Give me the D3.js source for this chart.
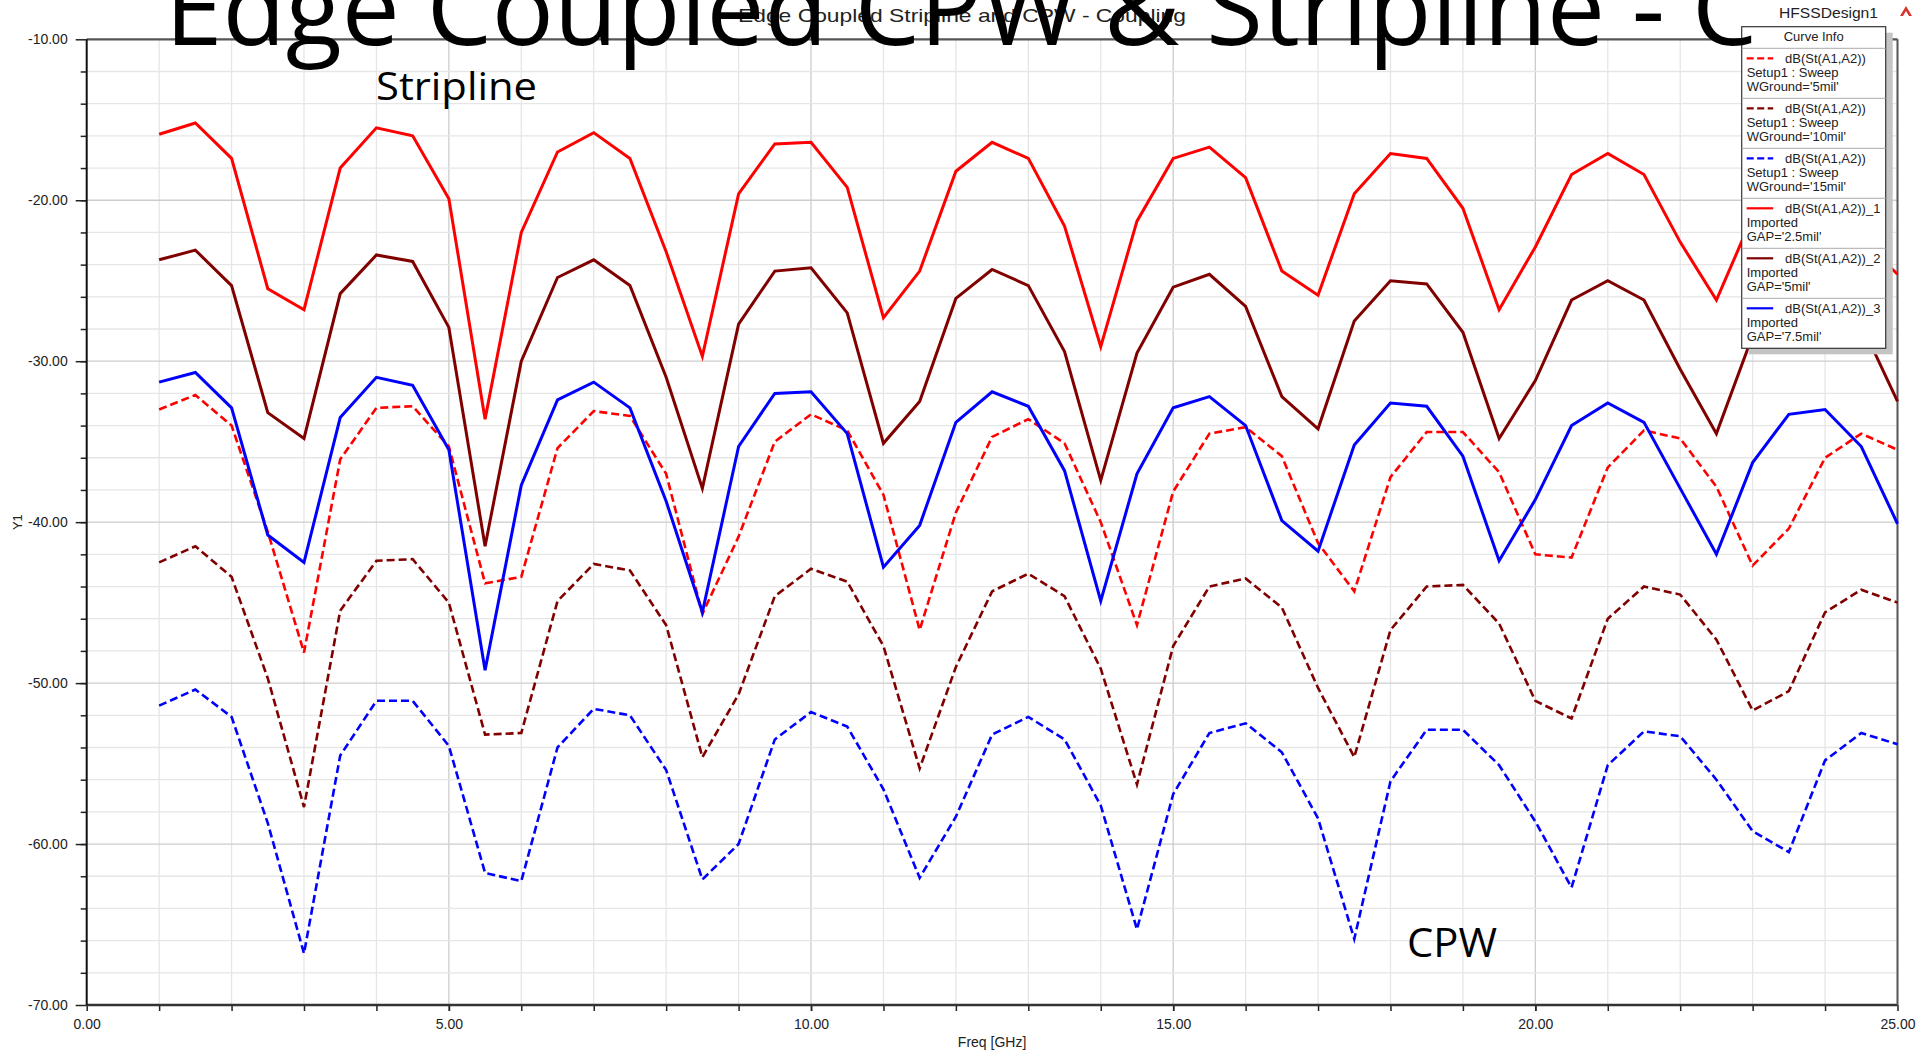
<!DOCTYPE html>
<html>
<head>
<meta charset="utf-8">
<script src="https://cdn.jsdelivr.net/npm/d3@7/dist/d3.min.js"></script>
<style>
  body { margin: 0; background: #fff; }
  svg { display: block; }
  .lbl { font-family: 'Liberation Sans', Arial, sans-serif; fill: #222; }
  .slide { font-family: 'Open Sans', 'Noto Sans', sans-serif; fill: #000; }
</style>
</head>
<body>
<div id="chart"></div>
<script>
// ---- data (dB vs GHz) ----
var freq = [1, 1.5, 2, 2.5, 3, 3.5, 4, 4.5, 5, 5.5, 6, 6.5, 7, 7.5, 8, 8.5, 9, 9.5, 10, 10.5,
            11, 11.5, 12, 12.5, 13, 13.5, 14, 14.5, 15, 15.5, 16, 16.5, 17, 17.5, 18, 18.5, 19, 19.5, 20, 20.5,
            21, 21.5, 22, 22.5, 23, 23.5, 24, 24.5, 25];

// CPW sweep, WGround = 5 / 10 / 15 mil (dashed)
var wg5 = [-33.0, -32.1, -34.0, -40.6, -48.1, -36.1, -32.9, -32.8, -35.3, -43.8, -43.4, -35.4, -33.1, -33.4, -37.0, -45.7, -40.9, -35.0, -33.3, -34.3,
           -38.3, -46.7, -39.4, -34.7, -33.6, -35.1, -40.0, -46.4, -38.1, -34.5, -34.1, -35.9, -41.3, -44.3, -37.2, -34.4, -34.4, -36.9, -42.0, -42.2,
           -36.6, -34.3, -34.8, -37.8, -42.7, -40.4, -36.0, -34.5, -35.5];
var wg10 = [-42.5, -41.5, -43.4, -49.7, -57.7, -45.5, -42.4, -42.3, -45.0, -53.2, -53.1, -44.9, -42.6, -43.0, -46.4, -54.6, -50.7, -44.6, -42.9, -43.7,
            -47.7, -55.3, -49.0, -44.3, -43.2, -44.6, -49.1, -56.3, -47.7, -44.0, -43.5, -45.3, -50.3, -54.6, -46.7, -44.0, -43.9, -46.3, -51.1, -52.2,
            -46.0, -44.0, -44.5, -47.3, -51.7, -50.5, -45.6, -44.2, -45.0];
var wg15 = [-51.4, -50.4, -52.1, -58.7, -66.8, -54.5, -51.1, -51.1, -53.9, -61.8, -62.3, -54.0, -51.6, -52.0, -55.4, -62.2, -60.0, -53.5, -51.8, -52.7,
            -56.6, -62.1, -58.3, -53.2, -52.1, -53.5, -57.6, -65.3, -56.9, -53.1, -52.5, -54.3, -58.4, -65.9, -56.1, -52.9, -52.9, -55.1, -58.6, -62.7,
            -55.1, -53.0, -53.3, -56.0, -59.2, -60.5, -54.8, -53.1, -53.8];

// Stripline imported, GAP = 2.5 / 5 / 7.5 mil (solid)
var gap25 = [-15.9, -15.2, -17.4, -25.5, -26.8, -18.0, -15.5, -16.0, -19.9, -33.6, -22.0, -17.0, -15.8, -17.4, -23.2, -29.7, -19.6, -16.5, -16.4, -19.2,
             -27.3, -24.4, -18.2, -16.4, -17.4, -21.6, -29.1, -21.3, -17.4, -16.7, -18.6, -24.4, -25.9, -19.6, -17.1, -17.4, -20.5, -26.8, -22.9, -18.4,
             -17.1, -18.4, -22.6, -26.2, -21.0, -17.8, -17.6, -22.4, -24.6];
var gap5 = [-23.7, -23.1, -25.3, -33.2, -34.8, -25.8, -23.4, -23.8, -27.9, -41.5, -30.0, -24.8, -23.7, -25.3, -31.0, -37.9, -27.7, -24.4, -24.2, -27.0,
            -35.1, -32.5, -26.1, -24.3, -25.3, -29.4, -37.4, -29.5, -25.4, -24.6, -26.6, -32.2, -34.2, -27.5, -25.0, -25.2, -28.2, -34.8, -31.2, -26.2,
            -25.0, -26.2, -30.5, -34.5, -28.4, -25.6, -25.5, -27.7, -32.5];
var gap75 = [-31.3, -30.7, -32.9, -40.8, -42.5, -33.5, -31.0, -31.5, -35.5, -49.2, -37.7, -32.4, -31.3, -32.9, -38.7, -45.6, -35.3, -32.0, -31.9, -34.5,
             -42.8, -40.2, -33.8, -31.9, -32.8, -36.8, -44.9, -37.0, -32.9, -32.2, -34.0, -39.9, -41.8, -35.2, -32.6, -32.8, -35.9, -42.4, -38.6, -34.0,
             -32.6, -33.8, -37.9, -42.0, -36.3, -33.3, -33.0, -35.3, -40.1];

var traceNames = ["dB(St(A1,A2))", "dB(St(A1,A2))", "dB(St(A1,A2))", "dB(St(A1,A2))_1", "dB(St(A1,A2))_2", "dB(St(A1,A2))_3"];
var traceSources = ["Setup1 : Sweep", "Setup1 : Sweep", "Setup1 : Sweep", "Imported", "Imported", "Imported"];
var traceParams = ["WGround='5mil'", "WGround='10mil'", "WGround='15mil'", "GAP='2.5mil'", "GAP='5mil'", "GAP='7.5mil'"];

var xTicks = [0, 5, 10, 15, 20, 25];
var yTicks = [-70, -60, -50, -40, -30, -20, -10];

// ---- layout ----
var W = 1917, H = 1053;
var L = 86.7, R = 1897.5, T = 39.3, B = 1005;

var svg = d3.select('#chart').append('svg')
    .attr('width', W)
    .attr('height', H);

var x = d3.scaleLinear().domain([0, 25]).range([L, R]);
var y = d3.scaleLinear().domain([-70, -10]).range([B, T]);

var styles = [
  { color: '#ff0000', dash: '8,4', w: 2.6 },
  { color: '#800000', dash: '8,4', w: 2.6 },
  { color: '#0000ff', dash: '8,4', w: 2.6 },
  { color: '#ff0000', dash: null, w: 3 },
  { color: '#800000', dash: null, w: 3 },
  { color: '#0000ff', dash: null, w: 3 }
];
var allValues = [wg5, wg10, wg15, gap25, gap5, gap75];

// 1) grid
var grid = svg.append('g');
grid.selectAll('.gx')
    .data(d3.range(1, 25))
    .enter().append('line')
    .attr('x1', function(d) { return x(d); })
    .attr('x2', function(d) { return x(d); })
    .attr('y1', T).attr('y2', B)
    .attr('stroke', function(d) { return d % 5 === 0 ? '#cdcdcd' : '#e6e6e6'; })
    .attr('stroke-width', 1.3);
grid.selectAll('.gy')
    .data(d3.range(-68, -10, 2))
    .enter().append('line')
    .attr('x1', L).attr('x2', R)
    .attr('y1', function(d) { return y(d); })
    .attr('y2', function(d) { return y(d); })
    .attr('stroke', function(d) { return d % 10 === 0 ? '#cdcdcd' : '#e6e6e6'; })
    .attr('stroke-width', 1.3);

// 2) axes
var yAxis = d3.axisLeft(y).tickValues(yTicks).tickSize(11).tickPadding(8)
    .tickFormat(function(d) { return d.toFixed(2); });
var yMinor = d3.axisLeft(y).tickValues(d3.range(-68, -10, 2)).tickSize(6).tickFormat('');
var xAxis = d3.axisBottom(x).tickValues(xTicks).tickSize(6).tickPadding(8)
    .tickFormat(function(d) { return d.toFixed(2); });
var xMinor = d3.axisBottom(x).tickValues(d3.range(1, 25)).tickSize(6).tickFormat('');

[[yAxis, 'translate(' + L + ',0)'], [yMinor, 'translate(' + L + ',0)'],
 [xAxis, 'translate(0,' + B + ')'], [xMinor, 'translate(0,' + B + ')']].forEach(function(a) {
  var g = svg.append('g').attr('transform', a[1]).call(a[0]);
  g.select('.domain').remove();
  g.selectAll('line').attr('stroke', '#222').attr('stroke-width', 1.5);
  g.selectAll('text').attr('class', 'lbl').style('font-size', '14px');
});

// frame
svg.append('line').attr('x1', L).attr('x2', R).attr('y1', T).attr('y2', T).attr('stroke', '#555').attr('stroke-width', 2.2);
svg.append('line').attr('x1', L).attr('x2', R).attr('y1', B).attr('y2', B).attr('stroke', '#333').attr('stroke-width', 2.6);
svg.append('line').attr('x1', R).attr('x2', R).attr('y1', T).attr('y2', B).attr('stroke', '#555').attr('stroke-width', 2);
svg.append('line').attr('x1', L).attr('x2', L).attr('y1', T).attr('y2', B).attr('stroke', '#111').attr('stroke-width', 2);

svg.append('text').attr('class', 'lbl')
    .attr('x', (L + R) / 2).attr('y', 1047)
    .attr('text-anchor', 'middle').style('font-size', '14px')
    .text('Freq [GHz]');
svg.append('text').attr('class', 'lbl')
    .attr('transform', 'translate(22,' + y(-40) + ') rotate(-90)')
    .attr('text-anchor', 'middle').style('font-size', '13px')
    .text('Y1');

// 3) traces
var line = d3.line()
    .x(function(d) { return x(d[0]); })
    .y(function(d) { return y(d[1]); });

svg.append('g').selectAll('path')
    .data(allValues)
    .enter().append('path')
    .attr('d', function(vals) { return line(freq.map(function(f, i) { return [f, vals[i]]; })); })
    .attr('fill', 'none')
    .attr('stroke', function(d, i) { return styles[i].color; })
    .attr('stroke-width', function(d, i) { return styles[i].w; })
    .attr('stroke-dasharray', function(d, i) { return styles[i].dash; })
    .attr('stroke-linejoin', 'miter');

// 4) plot title + design name
svg.append('text').attr('class', 'lbl')
    .attr('x', 962).attr('y', 22)
    .attr('text-anchor', 'middle').style('font-size', '19px')
    .attr('textLength', 448).attr('lengthAdjust', 'spacingAndGlyphs')
    .text('Edge Coupled Stripline and CPW - Coupling');
svg.append('text').attr('class', 'lbl')
    .attr('x', 1779).attr('y', 18).style('font-size', '15px')
    .attr('textLength', 99).attr('lengthAdjust', 'spacingAndGlyphs')
    .text('HFSSDesign1');
svg.append('path')
    .attr('d', 'M1900,16 L1906,6 L1912,16 Z M1903,16 L1906,11 L1909,16 Z')
    .attr('fill', '#d9342b').attr('fill-rule', 'evenodd');

// 5) legend (Curve Info)
var lx = 1741.7, ly = 26.7, lw = 144, lh = 321.6;
var legend = svg.append('g');
legend.append('rect').attr('x', lx + 7).attr('y', ly + 6).attr('width', lw).attr('height', lh).attr('fill', '#c4c4c4');
legend.append('rect').attr('x', lx).attr('y', ly).attr('width', lw).attr('height', lh)
    .attr('fill', '#fff').attr('stroke', '#333').attr('stroke-width', 1.2);
legend.append('text').attr('class', 'lbl')
    .attr('x', lx + lw / 2).attr('y', ly + 14).attr('text-anchor', 'middle').style('font-size', '13px')
    .text('Curve Info');

var entry = legend.selectAll('.legend')
    .data(traceNames)
    .enter().append('g')
    .attr('class', 'legend')
    .attr('transform', function(d, i) { return 'translate(' + lx + ',' + (48.3 + i * 50) + ')'; });

entry.append('line')
    .attr('x1', 0).attr('x2', lw).attr('y1', 0).attr('y2', 0)
    .attr('stroke', '#aaa').attr('stroke-width', 1);
entry.append('line')
    .attr('x1', 5).attr('x2', 31.5).attr('y1', 10).attr('y2', 10)
    .attr('stroke', function(d, i) { return styles[i].color; })
    .attr('stroke-width', 2.2)
    .attr('stroke-dasharray', function(d, i) { return styles[i].dash ? '7,3.5' : null; });
entry.append('text').attr('class', 'lbl')
    .attr('x', 43.3).attr('y', 15).style('font-size', '13px')
    .text(function(d) { return d; });
entry.append('text').attr('class', 'lbl')
    .attr('x', 5).attr('y', 28.5).style('font-size', '13px')
    .text(function(d, i) { return traceSources[i]; });
entry.append('text').attr('class', 'lbl')
    .attr('x', 5).attr('y', 42.5).style('font-size', '13px')
    .text(function(d, i) { return traceParams[i]; });

// 6) slide annotations on top
svg.append('text').attr('class', 'slide')
    .attr('x', 376).attr('y', 99.5).style('font-size', '39px')
    .attr('textLength', 161).attr('lengthAdjust', 'spacingAndGlyphs')
    .text('Stripline');
svg.append('text').attr('class', 'slide')
    .attr('x', 1407).attr('y', 956.5).style('font-size', '41px')
    .attr('textLength', 90).attr('lengthAdjust', 'spacingAndGlyphs')
    .text('CPW');
svg.append('text').attr('class', 'slide')
    .attr('x', 165).attr('y', 45).style('font-size', '102px')
    .attr('textLength', 1592).attr('lengthAdjust', 'spacingAndGlyphs')
    .text('Edge Coupled CPW & Stripline - C');
</script>
</body>
</html>
